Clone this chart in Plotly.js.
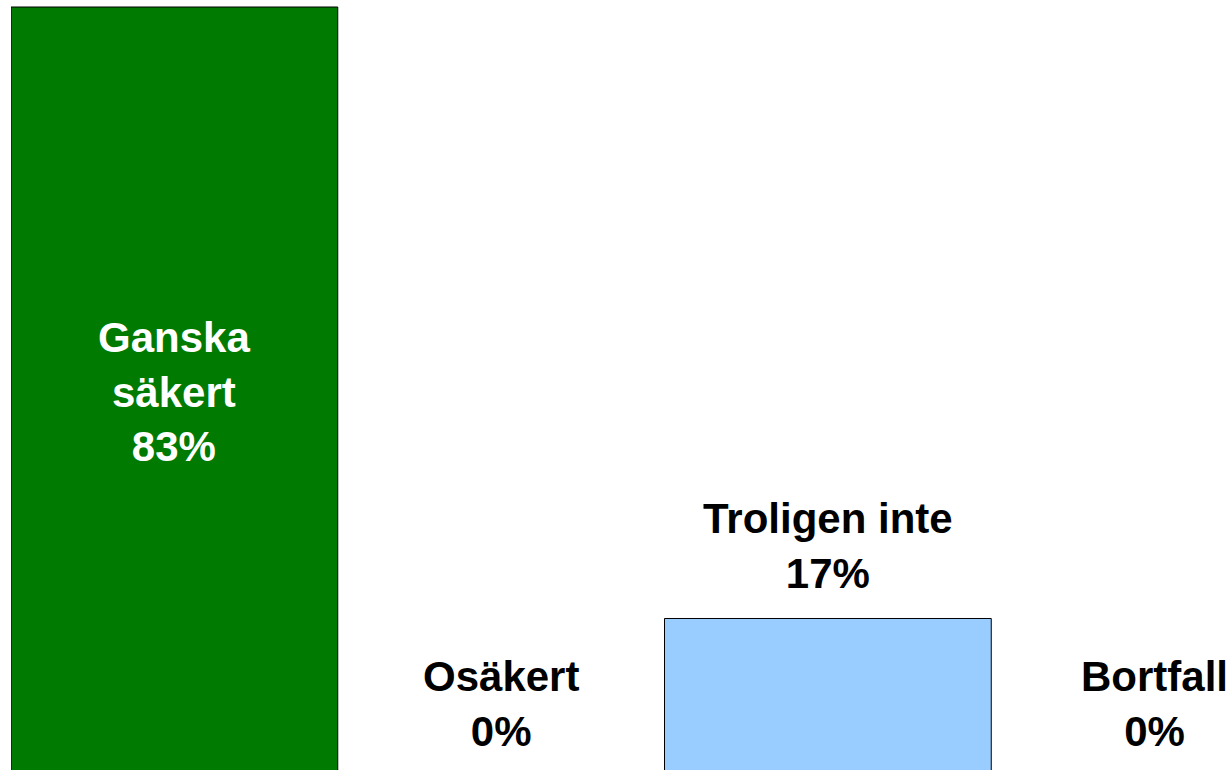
<!DOCTYPE html>
<html>
<head>
<meta charset="utf-8">
<script src="https://cdn.plot.ly/plotly-3.0.1.min.js"></script>
<style>
html, body { margin: 0; padding: 0; overflow: hidden; background: #fff; width: 1232px; height: 770px; }
#chart { width: 1318px; height: 776px; }
</style>
</head>
<body>
<div id="chart"></div>
<script>
const categories = ["Ganska säkert", "Osäkert", "Troligen inte", "Bortfall"];
const labelLines = ["Ganska<br>säkert", "Osäkert", "Troligen inte", "Bortfall"];
const values = [83, 0, 17, 0];
const barColors = ["#007A00", "#99CCFF", "#99CCFF", "#99CCFF"];
const insideLabel = [true, false, false, false];

const FONT = "Liberation Sans, Arial, sans-serif";

const trace = {
  type: "bar",
  x: categories,
  y: values,
  marker: { color: barColors, line: { color: "#000000", width: 1 } },
  hoverinfo: "skip",
  cliponaxis: true
};

const annotations = categories.map((c, i) => {
  const text = "<b>" + labelLines[i] + "<br>" + values[i] + "%</b>";
  if (insideLabel[i]) {
    return {
      x: c, y: values[i] / 2, xref: "x", yref: "y",
      text: text, showarrow: false, xanchor: "center", yanchor: "middle",
      font: { family: FONT, size: 42, color: "#ffffff" }
    };
  }
  return {
    x: c, y: values[i], xref: "x", yref: "y",
    text: text, showarrow: false, xanchor: "center", yanchor: "bottom",
    yshift: 19,
    font: { family: FONT, size: 42, color: "#000000" }
  };
});

const layout = {
  width: 1318,
  height: 776,
  margin: { l: 11, r: 0, t: 0, b: 0 },
  paper_bgcolor: "#ffffff",
  plot_bgcolor: "#ffffff",
  bargap: 0,
  showlegend: false,
  xaxis: { visible: false, range: [-0.5, 3.5], type: "category" },
  yaxis: { visible: false, range: [0, 83.755] },
  annotations: annotations
};

Plotly.newPlot("chart", [trace], layout, { staticPlot: true, displayModeBar: false });
</script>
</body>
</html>
